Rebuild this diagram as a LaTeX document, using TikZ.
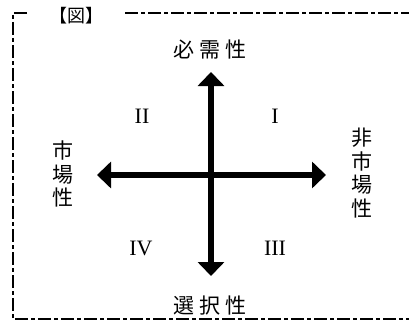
\documentclass[tikz,border=0pt]{standalone}
\usepackage{fontspec}
\setmainfont{Liberation Serif}
\newfontfamily\jp{Noto Sans CJK JP}
\usetikzlibrary{arrows.meta}
\tikzset{
  frame/.style={line width=1.3pt, dash pattern=on 13pt off 3pt on 4pt off 3pt},
  axis/.style={line width=6pt, -{Triangle[length=14pt,width=26pt]}},
  axlabel/.style={inner sep=0pt, align=center, font=\jp\fontsize{21}{23.5}\selectfont},
  quad/.style={inner sep=0pt, font=\fontsize{22}{22}\selectfont},
  title/.style={inner sep=0pt, font=\jp\fontsize{18}{18}\selectfont}
}
\newcommand{\jsp}{\hspace{5pt}}
\begin{document}
\begin{tikzpicture}[x=1pt,y=-1pt]
\useasboundingbox (0,0) rectangle (409,321);
% frame
\draw[frame] (27,13) -- (13,13) -- (13,319) -- (409,319);
\draw[frame] (125,13) -- (409,13);
\node[title] (fig) at (76,16) {【図】};
% axes
\coordinate (c) at (211,175);
\coordinate (up) at (211,72);
\coordinate (down) at (211,276);
\coordinate (left) at (97,175);
\coordinate (right) at (326,175);
\draw[axis] (c) -- (up);
\draw[axis] (c) -- (down);
\draw[axis] (c) -- (left);
\draw[axis] (c) -- (right);
% labels
\node[axlabel] (top) at (210,50) {必\jsp 需\jsp 性};
\node[axlabel] (bot) at (210,306) {選\jsp 択\jsp 性};
\node[axlabel] (lft) at (63,174) {市\\場\\性};
\node[axlabel] (rgt) at (362,173) {非\\市\\場\\性};
% quadrants
\node[quad] (q1) at (275,116) {I};
\node[quad] (q2) at (142,116) {II};
\node[quad] (q3) at (275,248) {III};
\node[quad] (q4) at (141,248) {IV};
\end{tikzpicture}
\end{document}
